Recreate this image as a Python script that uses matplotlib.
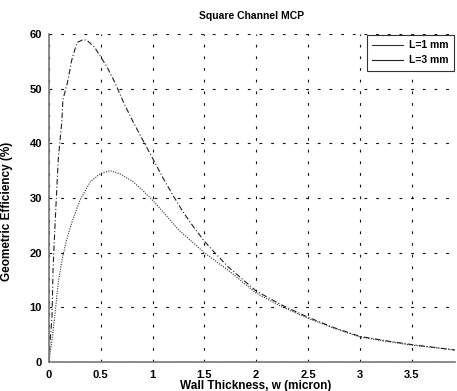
import numpy as np
import matplotlib
matplotlib.use("Agg")
import matplotlib.pyplot as plt
from matplotlib.lines import Line2D

# wall thickness (micron) and geometric efficiency (%)
w_1mm = [0, 0.03, 0.06, 0.09, 0.13, 0.17, 0.22, 0.3, 0.4, 0.5, 0.59, 0.7, 0.81,
         0.9, 1.0, 1.1, 1.25, 1.5, 1.75, 2.0, 2.25, 2.5, 2.75, 3.0, 3.25, 3.5,
         3.75, 3.92]
eff_1mm = [0, 4, 9, 14.5, 19, 22.3, 25.5, 29.6, 33, 34.5, 35.0, 34.3, 33,
           31.5, 29.6, 27.5, 24.2, 20, 16.5, 12.6, 10.1, 8.0, 6.2, 4.6, 3.8,
           3.1, 2.6, 2.2]

w_3mm = [0, 0.01, 0.03, 0.04, 0.06, 0.09, 0.125, 0.135, 0.18, 0.22, 0.27, 0.33,
         0.37, 0.44, 0.56, 0.64, 0.72, 0.8, 0.9, 1.0, 1.1, 1.2, 1.3, 1.4, 1.5,
         1.6, 1.73, 2.0, 2.25, 2.5, 2.75, 3.0, 3.25, 3.5, 3.75, 3.92]
eff_3mm = [0, 3.5, 8.2, 17, 25.5, 37, 44, 48, 51.2, 55.2, 58.4, 59, 58.8, 57.6,
           54, 51, 47.5, 44.4, 40.8, 37.3, 33.7, 30.4, 27.3, 24.6, 22.1, 20.0,
           17.4, 13, 10.4, 8.2, 6.3, 4.7, 3.9, 3.2, 2.6, 2.2]

x_ticks = [0, 0.5, 1, 1.5, 2, 2.5, 3, 3.5]
x_tick_labels = ["0", "0.5", "1", "1.5", "2", "2.5", "3", "3.5"]
y_ticks = [0, 10, 20, 30, 40, 50, 60]

plt.rcParams['font.family'] = ['Liberation Sans', 'DejaVu Sans']
plt.rcParams['font.weight'] = 'bold'

fig = plt.figure(figsize=(4.57, 3.91), dpi=100)
ax = fig.add_axes([0.107, 0.074, 0.889, 0.839])

ax.plot(w_1mm, eff_1mm, color='#333333', lw=0.8, ls=(0, (1, 1.2)))
ax.plot(w_3mm, eff_3mm, color='#222222', lw=0.8, ls=(0, (5, 2, 1, 2)))

ax.set_xlim(0, 3.92)
ax.set_ylim(0, 60)
ax.set_xticks(x_ticks)
ax.set_xticklabels(x_tick_labels)
ax.set_yticks(y_ticks)
ax.tick_params(axis='x', length=0, labelsize=8, pad=6)
ax.tick_params(axis='y', length=0, labelsize=8, pad=5)

ax.grid(True, color='#111111', lw=0.8, ls=(0, (2.5, 8)))
for s in ['top', 'right']:
    ax.spines[s].set_visible(False)
for s in ['left', 'bottom']:
    ax.spines[s].set_color('#777777')
    ax.spines[s].set_linewidth(1.2)

ax.set_title("Square Channel MCP", fontsize=7.5, fontweight='bold', pad=11)
ax.set_xlabel("Wall Thickness, w (micron)", fontsize=8.5, fontweight='bold')
ax.xaxis.set_label_coords(0.51, -0.055)
ax.set_ylabel("Geometric Efficiency (%)", fontsize=8.5, fontweight='bold')
ax.yaxis.set_label_coords(-0.088, 0.46)

handles = [Line2D([], [], color='#333333', lw=0.8),
           Line2D([], [], color='#222222', lw=0.8)]
leg = ax.legend(handles, ["L=1 mm", "L=3 mm"], loc='upper right', fontsize=7.5,
                frameon=True, fancybox=False, borderaxespad=0.1,
                handlelength=3, handletextpad=0.6, borderpad=0.5)
leg.get_frame().set_edgecolor('#333333')
leg.get_frame().set_linewidth(0.8)
leg.get_frame().set_alpha(1)

fig.savefig("out.png", dpi=100)
